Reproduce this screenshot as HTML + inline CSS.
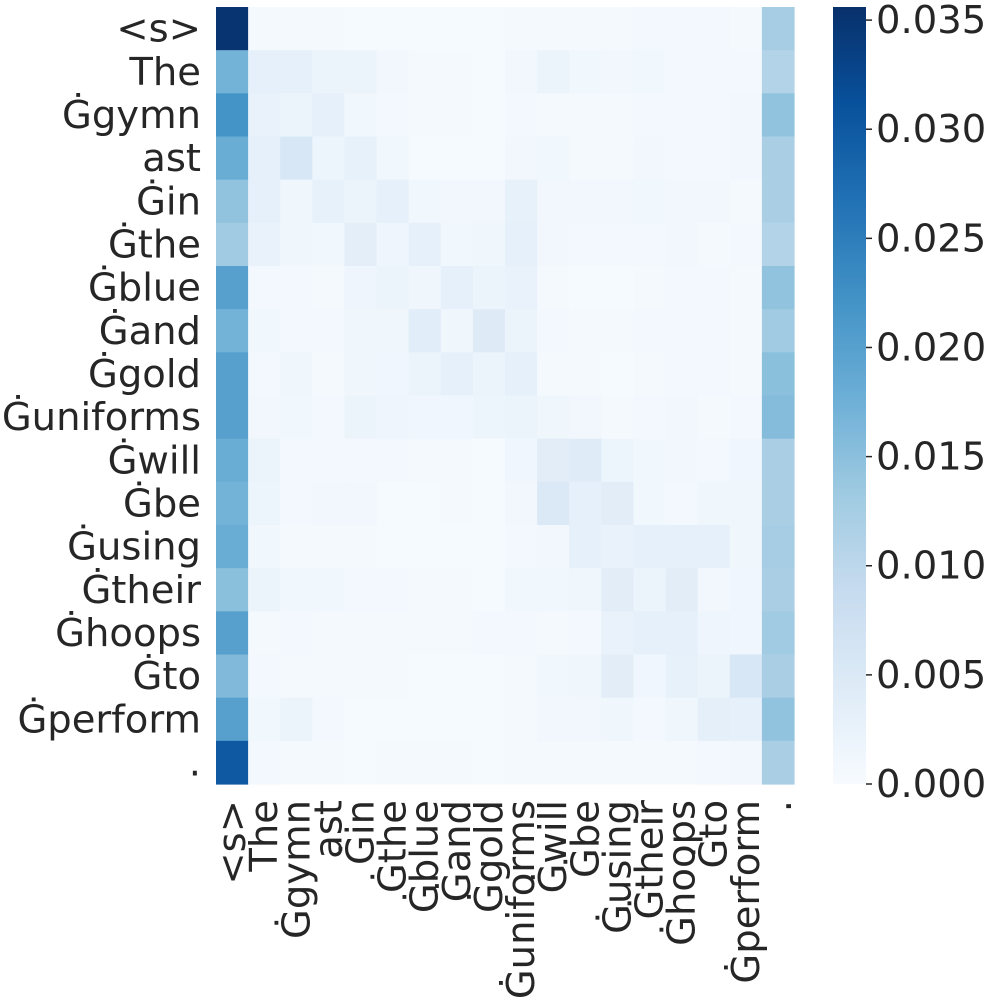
<!DOCTYPE html>
<html><head><meta charset="utf-8"><style>
body{margin:0;background:#fff;}
svg text{font-family:"DejaVu Sans","Liberation Sans",sans-serif;fill:#262626;}
</style></head><body>
<svg id="chart" width="1000" height="1000" viewBox="0 0 1000 1000" xmlns="http://www.w3.org/2000/svg">
<g id="cells"></g>
<g id="ylabels"></g>
<g id="xlabels"></g>
<defs><linearGradient id="cbgrad" x1="0" y1="1" x2="0" y2="0">
<stop offset="0" stop-color="#f7fbff"/><stop offset="0.125" stop-color="#deebf7"/><stop offset="0.25" stop-color="#c6dbef"/><stop offset="0.375" stop-color="#9ecae1"/><stop offset="0.5" stop-color="#6baed6"/><stop offset="0.625" stop-color="#4292c6"/><stop offset="0.75" stop-color="#2171b5"/><stop offset="0.875" stop-color="#08519c"/><stop offset="1" stop-color="#08306b"/></linearGradient></defs>
<rect x="833" y="7" width="33" height="777" fill="url(#cbgrad)"/>
<g id="cbticks"></g>
</svg>
<script>
const tokens = ["<s>","The","Ġgymn","ast","Ġin","Ġthe","Ġblue","Ġand","Ġgold","Ġuniforms","Ġwill","Ġbe","Ġusing","Ġtheir","Ġhoops","Ġto","Ġperform","."];
const firstCol = [35,17,22,18,14.5,13,20,17,20,20,18,17,18,15,20,16,20,30];
const lastCol = [12.5,11,14.5,12,12,11,14.5,13,15,15.5,12,12,12.5,12,13,12,14.5,12];
const inner = [
[0.5,0.5,0.5,0.4,0.4,0.4,0.4,0.3,0.6,0.6,0.5,0.5,0.8,0.8,0.8,0.5],
[3,3,2,2,1,0.5,0.5,0.3,1,2,1.2,1,1.2,0.8,0.8,0.8],
[2.5,2,3,1.2,0.8,0.5,0.5,0.3,0.8,0.6,0.6,0.6,0.8,0.8,0.8,1],
[3,5.5,1.8,2.8,1.2,0.4,0.4,0.3,1,1.2,0.6,0.5,1,0.8,0.8,1],
[3,1.5,2.8,2,3,1.2,1,1,2.8,1,1,1,1.2,1,1,0.6],
[2.5,1.5,1.2,3.5,1.6,3,1.2,1.4,3,1,0.7,0.7,0.8,1,0.5,0.7],
[0.8,0.8,0.6,1.6,2,1.5,3,2.2,2.5,0.5,0.4,0.4,0.6,0.8,0.7,0.6],
[1.2,0.8,0.8,1.5,1.4,4,1.5,4.5,2,0.8,0.6,0.6,0.8,0.8,0.8,0.6],
[0.8,1.5,0.6,1.5,1.3,2,3,2,3,0.6,0.5,0.4,0.6,0.8,0.7,0.6],
[1,1.2,0.8,2,1.6,1.3,1.3,1.8,2,1.5,1,0.6,0.8,1,0.6,0.8],
[2.2,0.8,0.8,0.8,0.8,0.5,0.5,0.3,1.3,3.8,4.2,1.8,1.2,1,0.9,1.3],
[1.8,0.7,1,1,0.4,0.4,0.5,0.3,1,5,3,3.8,1.2,0.8,1.5,1.5],
[1.2,0.5,0.5,0.5,0.4,0.4,0.4,0.4,0.8,1,3,2.5,3,3,3,1.5],
[2,1.2,1.2,0.8,0.8,0.6,0.6,0.3,1.2,1.2,1.5,3.8,2,3.8,1,1.3],
[0.6,0.9,0.5,0.5,0.5,0.5,0.6,0.7,0.7,0.6,0.8,2.5,3,3,1.6,1.3],
[0.8,0.5,0.5,0.5,0.5,0.4,0.4,0.4,0.6,1.2,1.5,3.8,1.3,2.8,2,5.5],
[1.2,2,0.8,0.4,0.4,0.4,0.4,0.4,0.6,1,1,1.4,0.7,1.5,3.3,3],
[0.8,0.5,0.5,0.4,0.6,0.5,0.6,0.4,0.5,0.5,0.5,0.5,0.5,0.5,0.8,1]
];
const cbTicks = [0,0.005,0.01,0.015,0.02,0.025,0.03,0.035];
const cbLabels = ["0.000","0.005","0.010","0.015","0.020","0.025","0.030","0.035"];
const VMAX = 0.0356;
const X0=216, X1=794, Y0=7, Y1=784;
const FS = 38.5;
const n = tokens.length, cw=(X1-X0)/n, ch=(Y1-Y0)/n;
const stops=[[247,251,255],[222,235,247],[198,219,239],[158,202,225],[107,174,214],[66,146,198],[33,113,181],[8,81,156],[8,48,107]];
function color(v){let t=Math.max(0,Math.min(1,v/VMAX))*8;let i=Math.min(7,Math.floor(t)),f=t-i;
 const c=stops[i].map((a,k)=>Math.round(a+(stops[i+1][k]-a)*f));return `rgb(${c})`;}
const xs=i=>X0+i*cw, ys=j=>Y0+j*ch, cy=v=>Y1-(v/VMAX)*(Y1-Y0);
const NS="http://www.w3.org/2000/svg";
const cells=document.getElementById('cells');
for(let r=0;r<n;r++){for(let c=0;c<n;c++){
 let v = c===0?firstCol[r]/1000 : c===n-1?lastCol[r]/1000 : inner[r][c-1]/1000;
 const el=document.createElementNS(NS,'rect');
 
 
 el.setAttribute('x',xs(c));el.setAttribute('y',ys(r));el.setAttribute('width',cw+0.6);el.setAttribute('height',ch+0.6);
 el.setAttribute('fill',color(v));cells.appendChild(el);}}
const yl=document.getElementById('ylabels'), xl=document.getElementById('xlabels');
tokens.forEach((t,i)=>{
 const a=document.createElementNS(NS,'text');
 
 
 a.setAttribute('x',201);a.setAttribute('y',ys(i)+ch/2+13);a.setAttribute('text-anchor','end');a.setAttribute('font-size',FS);
 a.textContent=t;yl.appendChild(a);
 const b=document.createElementNS(NS,'text');
 
 
 const x=xs(i)+cw/2+13;
 b.setAttribute('transform',`translate(${x},800) rotate(-90)`);b.setAttribute('text-anchor','end');b.setAttribute('font-size',FS);
 b.textContent=t;xl.appendChild(b);
});
const cb=document.getElementById('cbticks');
cbTicks.forEach((v,i)=>{
 const y=cy(v);
 const l=document.createElementNS(NS,'line');
 
 
 l.setAttribute('x1',866);l.setAttribute('x2',872);l.setAttribute('y1',y);l.setAttribute('y2',y);l.setAttribute('stroke','#262626');l.setAttribute('stroke-width','1.5');cb.appendChild(l);
 const t=document.createElementNS(NS,'text');
 
 
 t.setAttribute('x',876);t.setAttribute('y',y+13);t.setAttribute('font-size',FS);t.textContent=cbLabels[i];cb.appendChild(t);
});
</script>
</body></html>
